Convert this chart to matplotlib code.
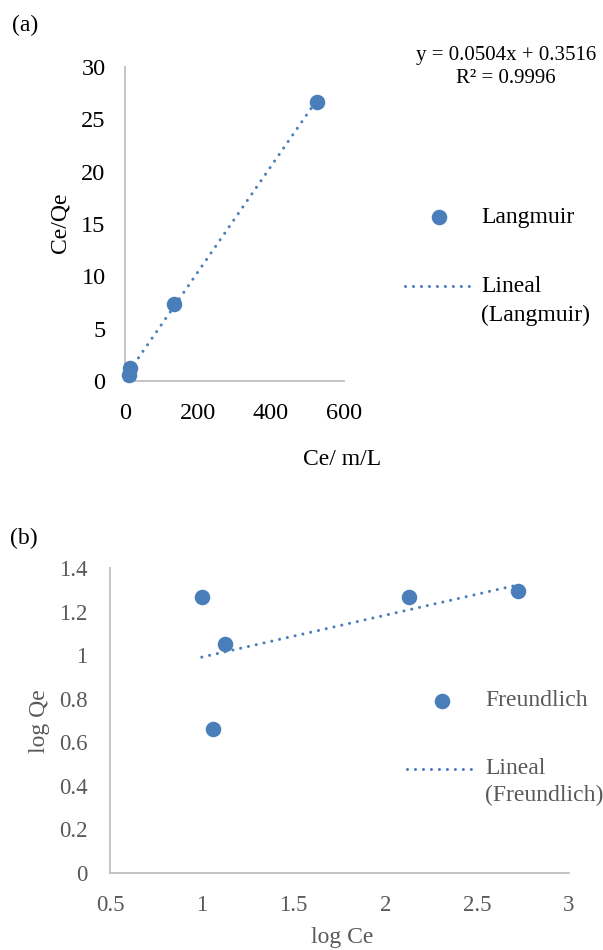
import numpy as np
import matplotlib.pyplot as plt
from matplotlib.lines import Line2D

plt.rcParams['font.family'] = ['Liberation Serif', 'DejaVu Serif']

# Langmuir isotherm: Ce vs Ce/Qe
ce_lang = [12, 14, 134, 525]
ceqe_lang = [0.57, 1.27, 7.33, 26.7]
lang_slope = 0.0504
lang_icpt = 0.3516
lang_r2 = 0.9996

# Freundlich isotherm: log Ce vs log Qe
log_ce = [1.0, 1.125, 1.062, 2.131, 2.722]
log_qe = [1.267, 1.049, 0.663, 1.267, 1.294]

blue = '#4A7EBB'
axis_gray = '#BFBFBF'
W, H = 603, 950


def px_rect(x0, x1, ytop, ybot):
    return [x0 / W, 1 - ybot / H, (x1 - x0) / W, (ybot - ytop) / H]


def fx(x):
    return x / W


def fy(y):
    return 1 - y / H


def style_axes(ax, color, ypad, size):
    for s in ['top', 'right']:
        ax.spines[s].set_visible(False)
    for s in ['left', 'bottom']:
        ax.spines[s].set_color(axis_gray)
        ax.spines[s].set_linewidth(1.3)
    ax.tick_params(axis='y', length=0, pad=ypad, labelsize=size, labelcolor=color)
    ax.tick_params(axis='x', length=0, pad=16, labelsize=size, labelcolor=color)


dots = dict(color=blue, lw=2.2, linestyle=(0, (0.01, 2.6)), dash_capstyle='round')


def legend_keys(x0, x1, y_pts, y_fit, lab_pts, lab_fit, color, spacing):
    # hand-placed legend: marker key, dotted key, labels to the right
    xm = (x0 + x1) / 2
    fig.add_artist(Line2D([fx(xm)], [fy(y_pts)], marker='o', ms=11.2, color=blue,
                          lw=0, mew=0, transform=fig.transFigure))
    fig.add_artist(Line2D([fx(x0), fx(x1)], [fy(y_fit), fy(y_fit)],
                          transform=fig.transFigure, **dots))
    fig.text(fx(x1 + 8), fy(y_pts), lab_pts, fontsize=17, color=color, va='center')
    fig.text(fx(x1 + 8), fy(y_fit), lab_fit[0], fontsize=17, color=color, va='center')
    fig.text(fx(x1 + 8), fy(y_fit + spacing), lab_fit[1], fontsize=17, color=color, va='center')


fig = plt.figure(figsize=(W / 100, H / 100), dpi=100)

# ---------------- (a) Langmuir
ax1 = fig.add_axes(px_rect(125, 344, 67, 381))
xs = np.array([min(ce_lang), max(ce_lang)])
ax1.plot(xs, lang_slope * xs + lang_icpt, zorder=2, **dots)
ax1.scatter(ce_lang, ceqe_lang, s=125, color=blue, zorder=3, clip_on=False, linewidths=0)
ax1.set_xlim(0, 600)
ax1.set_ylim(0, 30)
ax1.set_xticks([0, 200, 400, 600])
ax1.set_yticks(range(0, 31, 5))
style_axes(ax1, 'black', 14, 17.5)

fig.text(fx(12), fy(25), '(a)', fontsize=17, va='center', ha='left')
fig.text(fx(60), fy(223), 'Ce/Qe', fontsize=17, rotation=90, va='center', ha='center')
fig.text(fx(342), fy(460), 'Ce/ m/L', fontsize=17, va='center', ha='center')
fig.text(fx(506), fy(67),
         'y = %.4fx + %.4f\nR² = %.4f' % (lang_slope, lang_icpt, lang_r2),
         fontsize=15, va='center', ha='center', multialignment='center', linespacing=1.3)

legend_keys(405, 473, 217, 286, 'Langmuir', ['Lineal', '(Langmuir)'], 'black', 29)

# ---------------- (b) Freundlich
gray = '#595959'
ax2 = fig.add_axes(px_rect(110, 569, 568, 873))
b, a = np.polyfit(log_ce, log_qe, 1)
xs = np.array([min(log_ce), max(log_ce)])
ax2.plot(xs, b * xs + a, zorder=2, **dots)
ax2.scatter(log_ce, log_qe, s=125, color=blue, zorder=3, clip_on=False, linewidths=0)
ax2.set_xlim(0.5, 3)
ax2.set_ylim(0, 1.4)
ax2.set_xticks([0.5, 1, 1.5, 2, 2.5, 3])
ax2.set_xticklabels(['0.5', '1', '1.5', '2', '2.5', '3'])
ax2.set_yticks([0, 0.2, 0.4, 0.6, 0.8, 1, 1.2, 1.4])
ax2.set_yticklabels(['0', '0.2', '0.4', '0.6', '0.8', '1', '1.2', '1.4'])
style_axes(ax2, gray, 16, 16.5)

fig.text(fx(10), fy(538), '(b)', fontsize=17, va='center', ha='left')
fig.text(fx(40), fy(721), 'log Qe', fontsize=17, rotation=90, va='center', ha='center', color=gray)
fig.text(fx(342), fy(938), 'log Ce', fontsize=17, va='center', ha='center', color=gray)

legend_keys(407, 477, 701, 769, 'Freundlich', ['Lineal', '(Freundlich)'], gray, 26)

fig.savefig('out.png', dpi=100)
